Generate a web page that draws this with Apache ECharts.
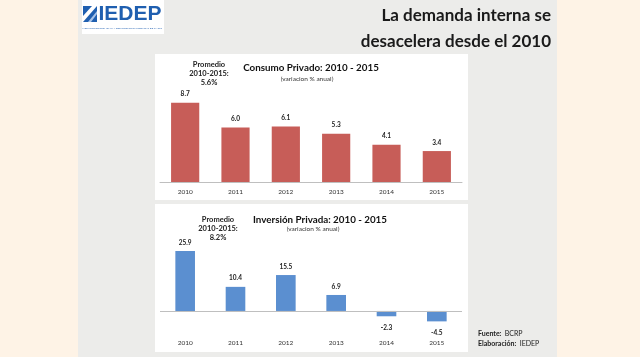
<!DOCTYPE html>
<html><head><meta charset="utf-8">
<script src="https://cdn.jsdelivr.net/npm/echarts@6/dist/echarts.min.js"></script>
<style>
html,body{margin:0;padding:0;background:#FEF3E6;}
#wrap{position:relative;width:640px;height:357px;}
.bg{position:absolute;}
#c{position:absolute;left:0;top:0;width:640px;height:357px;}
</style>
</head><body><div id="wrap">
<div class="bg" style="left:78px;top:0;width:479px;height:357px;background:#ECECEA"></div>
<div class="bg" style="left:155px;top:54px;width:313px;height:146px;background:#fff"></div>
<div class="bg" style="left:155px;top:204px;width:313px;height:148px;background:#fff"></div>
<div class="bg" style="left:82px;top:0;width:82px;height:34px;background:#fff"></div>
<div id="c"></div></div>
<script>
const years = ['2010','2011','2012','2013','2014','2015'];
const consumo = [8.7, 6.0, 6.1, 5.3, 4.1, 3.4];
const inversion = [25.9, 10.4, 15.5, 6.9, -2.3, -4.5];
const titleMain = ['La demanda interna se', 'desacelera desde el 2010'];
const title1 = 'Consumo Privado: 2010 - 2015';
const title2 = 'Inversión Privada: 2010 - 2015';
const subTitle = '(variacion % anual)';
const prom1 = ['Promedio', '2010-2015:', '5.6%'];
const prom2 = ['Promedio', '2010-2015:', '8.2%'];

const chart = echarts.init(document.getElementById('c'), null, {renderer:'canvas'});
const F = 'Lato, "Open Sans", sans-serif';
const fmt1 = p => p.value.toFixed(1);
const txt = (x,y,t,opt) => ({type:'text', x:x, y:y, z:10, style:Object.assign({text:t, fontFamily:F, fill:'#222', textAlign:'center', textVerticalAlign:'middle'}, opt||{})});
const lab = {show:true, position:'top', formatter:fmt1, fontSize:6.5, fontWeight:'bold', color:'#222', distance:5, fontFamily:F};

chart.setOption({
  animation:false,
  backgroundColor:'transparent',
  graphic:[
    {type:'polygon', shape:{points:[[83,22],[97,6],[97,22]]}, style:{fill:'#1F5FB0'}, z:5},
    {type:'polygon', shape:{points:[[83,6],[92,6],[83,16]]}, style:{fill:'#1F5FB0'}, z:5},
    {type:'polygon', shape:{points:[[88,22],[97,11],[97,14],[91,22]]}, style:{fill:'#A9C4E8'}, z:6},
    txt(130,14,'IEDEP',{fontSize:21, fontWeight:'bold', fill:'#1F5FB0', fontFamily:'"Liberation Sans", Arial, sans-serif'}),
    txt(122,28,'INSTITUTO DE ECONOMIA Y DESARROLLO EMPRESARIAL DE LA CCL',{fontSize:2.5, fill:'#1F5FB0'}),
    txt(551,16,titleMain[0],{fontSize:17, fontWeight:'bold', textAlign:'right', fill:'#1a1a1a'}),
    txt(551,42,titleMain[1],{fontSize:17, fontWeight:'bold', textAlign:'right', fill:'#1a1a1a'}),
    txt(311,68,title1,{fontSize:9.8, fontWeight:'bold', fill:'#111'}),
    txt(307,79,subTitle,{fontSize:6.5, fill:'#333'}),
    txt(209,65,prom1[0],{fontSize:7.5, fontWeight:'bold'}),
    txt(209,74,prom1[1],{fontSize:7.5, fontWeight:'bold'}),
    txt(209,83,prom1[2],{fontSize:7.5, fontWeight:'bold'}),
    txt(320,220,title2,{fontSize:9.8, fontWeight:'bold', fill:'#111'}),
    txt(313,229,subTitle,{fontSize:6.5, fill:'#333'}),
    txt(218,220,prom2[0],{fontSize:7.5, fontWeight:'bold'}),
    txt(218,229,prom2[1],{fontSize:7.5, fontWeight:'bold'}),
    txt(218,238,prom2[2],{fontSize:7.5, fontWeight:'bold'}),
    {type:'text', x:478, y:334, z:10, style:{rich:{b:{fontWeight:'bold',fontSize:7,fontFamily:F,fill:'#222'},n:{fontSize:7,fontFamily:F,fill:'#222'}}, text:'{b|Fuente:} {n|BCRP}', textVerticalAlign:'middle'}},
    {type:'text', x:478, y:344, z:10, style:{rich:{b:{fontWeight:'bold',fontSize:7,fontFamily:F,fill:'#222'},n:{fontSize:7,fontFamily:F,fill:'#222'}}, text:'{b|Elaboración:} {n|IEDEP}', textVerticalAlign:'middle'}}
  ],
  grid:[
    {left:160, width:302, top:91, height:91},
    {left:160, width:302, top:248.4, height:83.4}
  ],
  xAxis:[
    {gridIndex:0, type:'category', data:years, axisTick:{show:false},
     axisLine:{lineStyle:{color:'#BFBFBF'}},
     axisLabel:{fontSize:6.5, color:'#333', margin:6, fontFamily:F}},
    {gridIndex:1, type:'category', data:years, axisTick:{show:false},
     axisLine:{show:false, onZero:false},
     axisLabel:{fontSize:6.5, color:'#333', margin:8, fontFamily:F}}
  ],
  yAxis:[
    {gridIndex:0, type:'value', min:0, max:10, interval:5, axisLine:{show:false}, axisTick:{show:false}, axisLabel:{show:false}, splitLine:{show:false}},
    {gridIndex:1, type:'value', min:-9, max:27, interval:9, axisLine:{show:false}, axisTick:{show:false}, axisLabel:{show:false}, splitLine:{show:false}}
  ],
  series:[
    {type:'bar', xAxisIndex:0, yAxisIndex:0, data:consumo, barWidth:'56%',
     itemStyle:{color:'#C75D58'}, label:lab},
    {type:'bar', xAxisIndex:1, yAxisIndex:1,
     data:inversion.map(v => v < 0 ? {value:v, label:{position:'bottom', distance:8}} : v),
     barWidth:'39%', itemStyle:{color:'#5B8FD0'}, label:lab,
     markLine:{silent:true, symbol:'none', label:{show:false}, lineStyle:{color:'#BFBFBF', type:'solid', width:1},
       data:[{yAxis:0}]}}
  ]
});
</script></body></html>
